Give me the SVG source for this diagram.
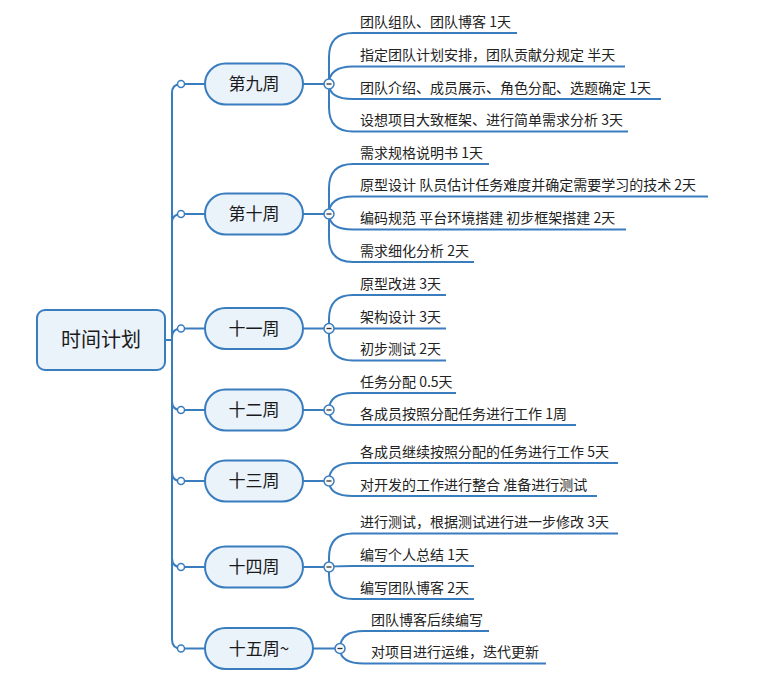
<svg xmlns="http://www.w3.org/2000/svg" width="784" height="694" viewBox="0 0 784 694">
<style>
.ln{fill:none;stroke:#3a7dbf;stroke-width:2}
.pill{fill:#eaf2fa;stroke:#3a7dbf;stroke-width:2}
.dot{fill:#fff;stroke:#3a7dbf;stroke-width:1.5}
.btn{fill:#fafafa;stroke:#3a7dbf;stroke-width:1.5}
.minus{stroke:#333;stroke-width:1.3}
text{font-family:"Noto Sans CJK SC","Microsoft YaHei","Liberation Sans",sans-serif}
.rt{font-size:20px;fill:#1a1a1a;text-anchor:middle}
.nt{font-size:17px;fill:#1a1a1a;text-anchor:middle}
.ct{font-size:14px;fill:#222}
</style>
<rect width="784" height="694" fill="#fff"/>
<g id="connectors">
  <path class="ln" d="M165 340 H172"/>
  <path class="ln" d="M181 84 Q172 84 172 93 V639.5 Q172 648.5 181 648.5"/>
  <path class="ln" d="M172 223 Q172 214 181 214"/>
  <path class="ln" d="M172 337.5 Q172 328.5 181 328.5"/>
  <path class="ln" d="M172 401 Q172 410 181 410"/>
  <path class="ln" d="M172 472 Q172 481 181 481"/>
  <path class="ln" d="M172 558 Q172 567 181 567"/>
  <path class="ln" d="M181 84 H205 M303 84 H329"/>
  <path class="ln" d="M181 214 H205 M303 214 H329"/>
  <path class="ln" d="M181 328.5 H205 M303 328.5 H329"/>
  <path class="ln" d="M181 410 H205 M303 410 H329"/>
  <path class="ln" d="M181 481 H205 M303 481 H329"/>
  <path class="ln" d="M181 567 H205 M303 567 H329"/>
  <path class="ln" d="M181 648.5 H205 M313 648.5 H340"/>
  <path class="ln" d="M329 84 V57 Q329 33 353 33 H517"/>
  <path class="ln" d="M329 84 Q329 66.5 353 66.5 H625"/>
  <path class="ln" d="M329 84 Q329 99 353 99 H661"/>
  <path class="ln" d="M329 84 V107.5 Q329 131.5 353 131.5 H628"/>
  <path class="ln" d="M329 214 V188 Q329 164 353 164 H489"/>
  <path class="ln" d="M329 214 Q329 196.5 353 196.5 H708"/>
  <path class="ln" d="M329 214 Q329 229.5 353 229.5 H626"/>
  <path class="ln" d="M329 214 V238 Q329 262 353 262 H474"/>
  <path class="ln" d="M329 328.5 V319 Q329 295 353 295 H446"/>
  <path class="ln" d="M329 328.5 H446"/>
  <path class="ln" d="M329 328.5 V336.5 Q329 360.5 353 360.5 H446"/>
  <path class="ln" d="M329 410 Q329 393 353 393 H456"/>
  <path class="ln" d="M329 410 Q329 425 353 425 H576"/>
  <path class="ln" d="M329 481 Q329 463 353 463 H618"/>
  <path class="ln" d="M329 481 Q329 496 353 496 H597"/>
  <path class="ln" d="M329 567 V557.5 Q329 533.5 353 533.5 H618"/>
  <path class="ln" d="M329 567 Q329 566 353 566 H474"/>
  <path class="ln" d="M329 567 V575 Q329 599 353 599 H474"/>
  <path class="ln" d="M340 648.5 Q340 631 364 631 H489"/>
  <path class="ln" d="M340 648.5 Q340 663.5 364 663.5 H546"/>
  <circle class="dot" cx="181" cy="84" r="3.5"/>
  <circle class="dot" cx="181" cy="214" r="3.5"/>
  <circle class="dot" cx="181" cy="328.5" r="3.5"/>
  <circle class="dot" cx="181" cy="410" r="3.5"/>
  <circle class="dot" cx="181" cy="481" r="3.5"/>
  <circle class="dot" cx="181" cy="567" r="3.5"/>
  <circle class="dot" cx="181" cy="648.5" r="3.5"/>
  <circle class="btn" cx="329" cy="84" r="5"/><path class="minus" d="M326.5 84 H331.5"/>
  <circle class="btn" cx="329" cy="214" r="5"/><path class="minus" d="M326.5 214 H331.5"/>
  <circle class="btn" cx="329" cy="328.5" r="5"/><path class="minus" d="M326.5 328.5 H331.5"/>
  <circle class="btn" cx="329" cy="410" r="5"/><path class="minus" d="M326.5 410 H331.5"/>
  <circle class="btn" cx="329" cy="481" r="5"/><path class="minus" d="M326.5 481 H331.5"/>
  <circle class="btn" cx="329" cy="567" r="5"/><path class="minus" d="M326.5 567 H331.5"/>
  <circle class="btn" cx="340" cy="648.5" r="5"/><path class="minus" d="M337.5 648.5 H342.5"/>
</g>
<g id="root">
  <rect x="37" y="310" width="128" height="60" rx="8" class="pill"/>
  <text x="101" y="347" class="rt">时间计划</text>
</g>
<g id="w9"><rect x="205" y="63.5" width="98" height="41" rx="20.5" class="pill"/><text x="254" y="90" class="nt">第九周</text></g>
<g id="w10"><rect x="205" y="193.5" width="98" height="41" rx="20.5" class="pill"/><text x="254" y="220" class="nt">第十周</text></g>
<g id="w11"><rect x="205" y="308" width="98" height="41" rx="20.5" class="pill"/><text x="254" y="334.5" class="nt">十一周</text></g>
<g id="w12"><rect x="205" y="389.5" width="98" height="41" rx="20.5" class="pill"/><text x="254" y="416" class="nt">十二周</text></g>
<g id="w13"><rect x="205" y="460.5" width="98" height="41" rx="20.5" class="pill"/><text x="254" y="487" class="nt">十三周</text></g>
<g id="w14"><rect x="205" y="546.5" width="98" height="41" rx="20.5" class="pill"/><text x="254" y="573" class="nt">十四周</text></g>
<g id="w15"><rect x="205" y="628" width="108" height="41" rx="20.5" class="pill"/><text x="259" y="654.5" class="nt">十五周~</text></g>
<g id="c1"><text x="360" y="26.5" class="ct">团队组队、团队博客 1天</text></g>
<g id="c2"><text x="360" y="60" class="ct">指定团队计划安排，团队贡献分规定 半天</text></g>
<g id="c3"><text x="360" y="92.5" class="ct">团队介绍、成员展示、角色分配、选题确定 1天</text></g>
<g id="c4"><text x="360" y="125" class="ct">设想项目大致框架、进行简单需求分析 3天</text></g>
<g id="c5"><text x="360" y="157.5" class="ct">需求规格说明书 1天</text></g>
<g id="c6"><text x="360" y="190" class="ct">原型设计 队员估计任务难度并确定需要学习的技术 2天</text></g>
<g id="c7"><text x="360" y="223" class="ct">编码规范 平台环境搭建 初步框架搭建 2天</text></g>
<g id="c8"><text x="360" y="255.5" class="ct">需求细化分析 2天</text></g>
<g id="c9"><text x="360" y="288.5" class="ct">原型改进 3天</text></g>
<g id="c10"><text x="360" y="322" class="ct">架构设计 3天</text></g>
<g id="c11"><text x="360" y="354" class="ct">初步测试 2天</text></g>
<g id="c12"><text x="360" y="386.5" class="ct">任务分配 0.5天</text></g>
<g id="c13"><text x="360" y="418.5" class="ct">各成员按照分配任务进行工作 1周</text></g>
<g id="c14"><text x="360" y="456.5" class="ct">各成员继续按照分配的任务进行工作 5天</text></g>
<g id="c15"><text x="360" y="489.5" class="ct">对开发的工作进行整合 准备进行测试</text></g>
<g id="c16"><text x="360" y="527" class="ct">进行测试，根据测试进行进一步修改 3天</text></g>
<g id="c17"><text x="360" y="559.5" class="ct">编写个人总结 1天</text></g>
<g id="c18"><text x="360" y="592.5" class="ct">编写团队博客 2天</text></g>
<g id="c19"><text x="371" y="624.5" class="ct">团队博客后续编写</text></g>
<g id="c20"><text x="371" y="657" class="ct">对项目进行运维，迭代更新</text></g>
</svg>
